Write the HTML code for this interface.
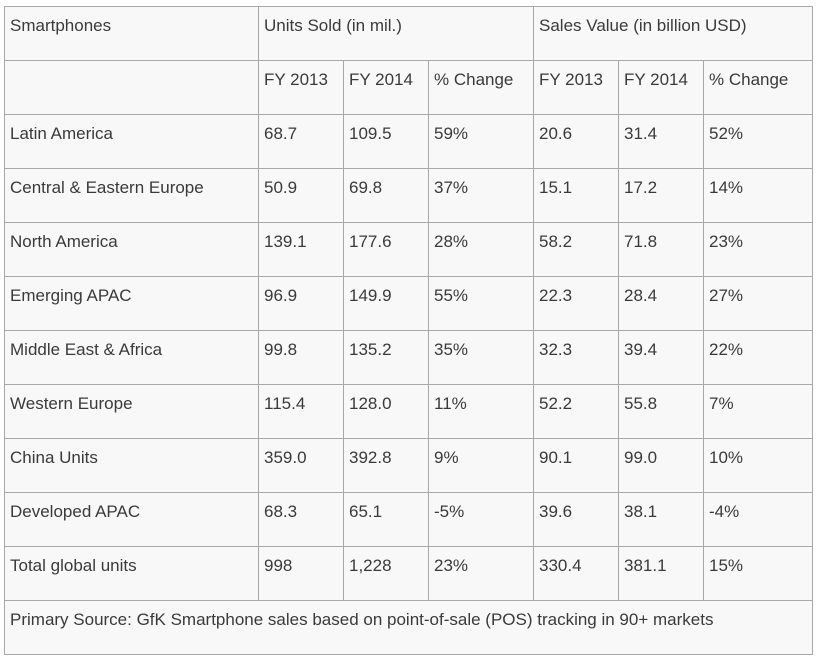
<!DOCTYPE html>
<html><head><meta charset="utf-8"><style>
html,body{margin:0;padding:0;background:#fff;width:820px;height:659px;overflow:hidden}
table{position:absolute;left:4px;top:6px;border-collapse:collapse;table-layout:fixed;background:#f8f8f8;font-family:"Liberation Sans",sans-serif;font-size:17px;color:#3a3a3a}
td{border:1px solid #a8a8a8;height:54px;padding:9px 0 0 5px;vertical-align:top;box-sizing:border-box;white-space:nowrap;overflow:hidden}
</style></head><body>
<table>
<colgroup><col style="width:254px"><col style="width:85px"><col style="width:85px"><col style="width:105px"><col style="width:85px"><col style="width:85px"><col style="width:109px"></colgroup>
<tr><td>Smartphones</td><td colspan="3">Units Sold (in mil.)</td><td colspan="3">Sales Value (in billion USD)</td></tr>
<tr><td></td><td>FY 2013</td><td>FY 2014</td><td>% Change</td><td>FY 2013</td><td>FY 2014</td><td>% Change</td></tr>
<tr><td>Latin America</td><td>68.7</td><td>109.5</td><td>59%</td><td>20.6</td><td>31.4</td><td>52%</td></tr>
<tr><td>Central &amp; Eastern Europe</td><td>50.9</td><td>69.8</td><td>37%</td><td>15.1</td><td>17.2</td><td>14%</td></tr>
<tr><td>North America</td><td>139.1</td><td>177.6</td><td>28%</td><td>58.2</td><td>71.8</td><td>23%</td></tr>
<tr><td>Emerging APAC</td><td>96.9</td><td>149.9</td><td>55%</td><td>22.3</td><td>28.4</td><td>27%</td></tr>
<tr><td>Middle East &amp; Africa</td><td>99.8</td><td>135.2</td><td>35%</td><td>32.3</td><td>39.4</td><td>22%</td></tr>
<tr><td>Western Europe</td><td>115.4</td><td>128.0</td><td>11%</td><td>52.2</td><td>55.8</td><td>7%</td></tr>
<tr><td>China Units</td><td>359.0</td><td>392.8</td><td>9%</td><td>90.1</td><td>99.0</td><td>10%</td></tr>
<tr><td>Developed APAC</td><td>68.3</td><td>65.1</td><td>-5%</td><td>39.6</td><td>38.1</td><td>-4%</td></tr>
<tr><td>Total global units</td><td>998</td><td>1,228</td><td>23%</td><td>330.4</td><td>381.1</td><td>15%</td></tr>
<tr><td colspan="7">Primary Source: GfK Smartphone sales based on point-of-sale (POS) tracking in 90+ markets</td></tr>
</table>
</body></html>
